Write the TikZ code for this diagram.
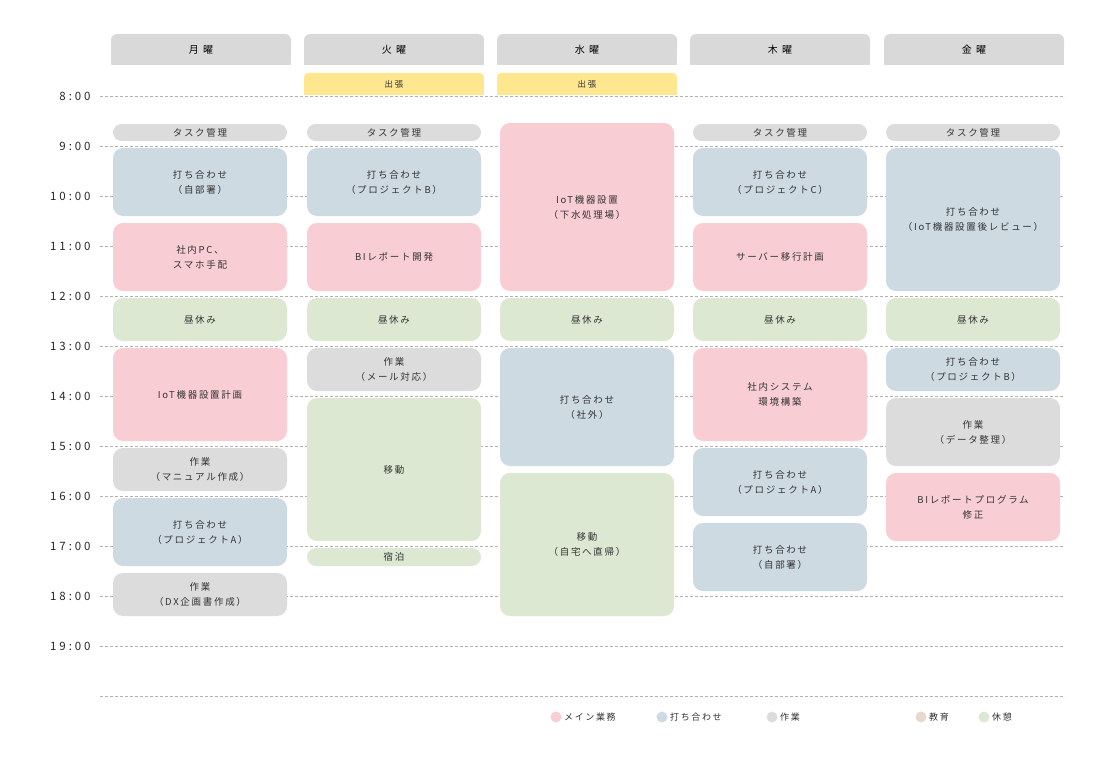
\documentclass[tikz,border=0pt]{standalone}
\usepackage{fontspec}
\setmainfont{Noto Sans CJK JP}[LetterSpace=18]
\newfontfamily\timefont{Noto Sans CJK JP}[LetterSpace=25]
\definecolor{cpink}{HTML}{F8CDD3}
\definecolor{cblue}{HTML}{CDDAE2}
\definecolor{cgray}{HTML}{DCDCDC}
\definecolor{cgreen}{HTML}{DCE8D2}
\definecolor{cbrown}{HTML}{E8D9CC}
\definecolor{cyellow}{HTML}{FFE790}
\definecolor{chead}{HTML}{D9D9D9}
\definecolor{ctext}{HTML}{333333}
\newcommand{\colx}[1]{\ifcase#1\or113\or307\or500\or693\or886\fi}
\newcommand{\evbox}[6]{%
  \pgfmathsetmacro{\exa}{\colx{#2}}\pgfmathsetmacro{\exb}{\exa+174}%
  \pgfmathsetmacro{\ecx}{\exa+87}\pgfmathsetmacro{\ecy}{(#3+#4)/2}%
  \pgfmathsetmacro{\eh}{#4-#3}\pgfmathsetmacro{\er}{min(10,\eh/2)}%
  \fill[#5,rounded corners=\er pt] (\exa,#3) rectangle (\exb,#4);
  \node[evtext] (#1) at (\ecx,\ecy) {#6};}
\begin{document}
\begin{tikzpicture}[x=1pt,y=-1pt,
  evtext/.style={text=ctext,font=\fontsize{9.5}{15}\selectfont,align=center,inner sep=0},
  hourline/.style={gray!60,dashed,dash pattern=on 3pt off 2pt,line width=0.5pt},
  timelbl/.style={anchor=east,text=black!85,font=\timefont\fontsize{11.5}{12}\selectfont},
  legtext/.style={anchor=west,text=ctext,font=\fontsize{9}{10}\selectfont,inner sep=0}]
\useasboundingbox (0,0) rectangle (1100,760);
% hour lines
\foreach \h [count=\i from 0] in {8,...,19}{
  \pgfmathsetmacro{\yy}{96+\i*50}
  \draw[hourline] (100,\yy) -- (1065,\yy);
  \node[timelbl] (t\h) at (94,\yy) {\h:00};}
\draw[hourline] (100,696) -- (1065,696);
% headers
\foreach \d/\xa [count=\k] in {月/111,火/304,水/497,木/690,金/884}{
  \pgfmathsetmacro{\xb}{\xa+180}
  \fill[chead,rounded corners=6pt] (\xa,34) rectangle (\xb,55);
  \fill[chead] (\xa,46) rectangle (\xb,65);
  \node[evtext,font=\fontsize{10}{12}\selectfont,text=black] (h\k) at (\xa+90,50) {\d\ 曜};}
% trips
\fill[cyellow,rounded corners=4pt] (304,73) rectangle (484,81);
\fill[cyellow] (304,78) rectangle (484,95);
\node[evtext,font=\fontsize{8.5}{10}\selectfont] (trip2) at (394,84) {出張};
\fill[cyellow,rounded corners=4pt] (497,73) rectangle (677,81);
\fill[cyellow] (497,78) rectangle (677,95);
\node[evtext,font=\fontsize{8.5}{10}\selectfont] (trip3) at (587,84) {出張};
% Monday
\evbox{m1}{1}{124}{141}{cgray}{タスク管理}
\evbox{m2}{1}{148}{216}{cblue}{打ち合わせ\\（自部署）}
\evbox{m3}{1}{223}{291}{cpink}{社内PC、\\スマホ手配}
\evbox{m4}{1}{298}{341}{cgreen}{昼休み}
\evbox{m5}{1}{348}{441}{cpink}{IoT機器設置計画}
\evbox{m6}{1}{448}{491}{cgray}{作業\\（マニュアル作成）}
\evbox{m7}{1}{498}{566}{cblue}{打ち合わせ\\（プロジェクトA）}
\evbox{m8}{1}{573}{616}{cgray}{作業\\（DX企画書作成）}
% Tuesday
\evbox{u1}{2}{124}{141}{cgray}{タスク管理}
\evbox{u2}{2}{148}{216}{cblue}{打ち合わせ\\（プロジェクトB）}
\evbox{u3}{2}{223}{291}{cpink}{BIレポート開発}
\evbox{u4}{2}{298}{341}{cgreen}{昼休み}
\evbox{u5}{2}{348}{391}{cgray}{作業\\（メール対応）}
\evbox{u6}{2}{398}{541}{cgreen}{移動}
\evbox{u7}{2}{548}{566}{cgreen}{宿泊}
% Wednesday
\evbox{w1}{3}{123}{291}{cpink}{IoT機器設置\\（下水処理場）}
\evbox{w2}{3}{298}{341}{cgreen}{昼休み}
\evbox{w3}{3}{348}{466}{cblue}{打ち合わせ\\（社外）}
\evbox{w4}{3}{473}{616}{cgreen}{移動\\（自宅へ直帰）}
% Thursday
\evbox{r1}{4}{124}{141}{cgray}{タスク管理}
\evbox{r2}{4}{148}{216}{cblue}{打ち合わせ\\（プロジェクトC）}
\evbox{r3}{4}{223}{291}{cpink}{サーバー移行計画}
\evbox{r4}{4}{298}{341}{cgreen}{昼休み}
\evbox{r5}{4}{348}{441}{cpink}{社内システム\\環境構築}
\evbox{r6}{4}{448}{516}{cblue}{打ち合わせ\\（プロジェクトA）}
\evbox{r7}{4}{523}{591}{cblue}{打ち合わせ\\（自部署）}
% Friday
\evbox{f1}{5}{124}{141}{cgray}{タスク管理}
\evbox{f2}{5}{148}{291}{cblue}{打ち合わせ\\（IoT機器設置後レビュー）}
\evbox{f3}{5}{298}{341}{cgreen}{昼休み}
\evbox{f4}{5}{348}{391}{cblue}{打ち合わせ\\（プロジェクトB）}
\evbox{f5}{5}{398}{466}{cgray}{作業\\（データ整理）}
\evbox{f6}{5}{473}{541}{cpink}{BIレポートプログラム\\修正}
% legend
\foreach \c/\x/\t [count=\k] in {cpink/556/メイン業務,cblue/662/打ち合わせ,cgray/772/作業/その他業務,cbrown/921/教育,cgreen/984/休憩/移動}{
  \fill[\c] (\x,717) circle (5.5);
  \node[legtext] (l\k) at (\x+8,717) {\t};}
\end{tikzpicture}
\end{document}
